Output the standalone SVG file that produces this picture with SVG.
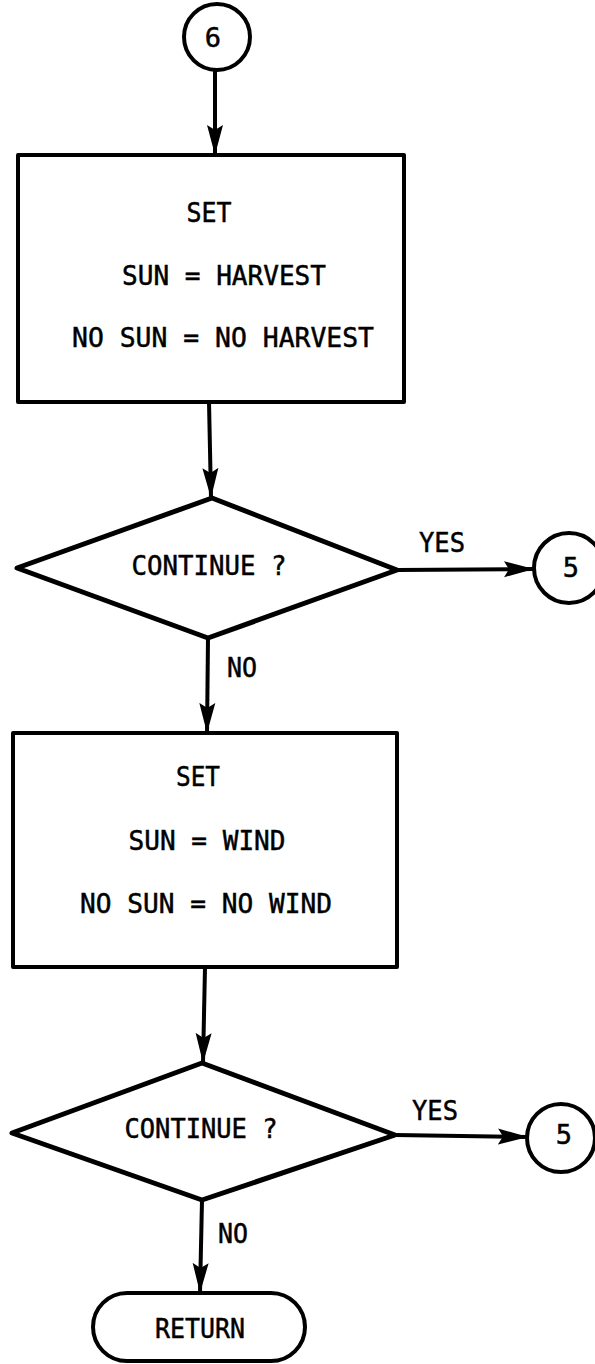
<svg xmlns="http://www.w3.org/2000/svg" width="595" height="1364" viewBox="0 0 595 1364">
  <defs>
    <style>
      .shape { fill: #fff; stroke: #000; stroke-width: 4; stroke-linejoin: round; }
      .diamond { stroke-width: 5; }
      .conn { fill: none; stroke: #000; stroke-width: 4; }
      .lbl { font-family: "DejaVu Sans Mono", "Liberation Mono", monospace; font-size: 27px; fill: #000; stroke: #000; stroke-width: 0.5; }
      .mid { text-anchor: middle; }
    </style>
    <marker id="arrow" viewBox="0 0 30 18" refX="30" refY="9" markerWidth="30" markerHeight="18" markerUnits="userSpaceOnUse" orient="auto">
      <path d="M0,1 L30,9 L0,17 L5,9 Z" fill="#000"/>
    </marker>
  </defs>
  <rect width="595" height="1364" fill="#fff"/>

  <!-- connectors -->
  <g id="connectors">
    <line class="conn" x1="215" y1="70" x2="215" y2="155" marker-end="url(#arrow)"/>
    <line class="conn" x1="209" y1="402" x2="211" y2="498" marker-end="url(#arrow)"/>
    <line class="conn" x1="397" y1="570" x2="534" y2="569" marker-end="url(#arrow)"/>
    <line class="conn" x1="208" y1="638" x2="207" y2="733" marker-end="url(#arrow)"/>
    <line class="conn" x1="205" y1="967" x2="203" y2="1063" marker-end="url(#arrow)"/>
    <line class="conn" x1="395" y1="1135" x2="528" y2="1137" marker-end="url(#arrow)"/>
    <line class="conn" x1="202" y1="1200" x2="200" y2="1293" marker-end="url(#arrow)"/>
    <text class="lbl" x="419" y="552" textLength="46" lengthAdjust="spacingAndGlyphs">YES</text>
    <text class="lbl" x="227" y="677" textLength="30" lengthAdjust="spacingAndGlyphs">NO</text>
    <text class="lbl" x="412" y="1120" textLength="46" lengthAdjust="spacingAndGlyphs">YES</text>
    <text class="lbl" x="218" y="1243" textLength="30" lengthAdjust="spacingAndGlyphs">NO</text>
  </g>

  <!-- entry connector 6 -->
  <g id="conn6">
    <circle class="shape" cx="217" cy="37" r="33"/>
    <text class="lbl mid" x="213" y="47">6</text>
  </g>

  <!-- first assignment block -->
  <g id="set1">
    <rect class="shape" x="18" y="155" width="386" height="247"/>
    <text class="lbl mid" x="209" y="222" textLength="45" lengthAdjust="spacingAndGlyphs">SET</text>
    <text class="lbl mid" x="224" y="285" textLength="204" lengthAdjust="spacingAndGlyphs">SUN = HARVEST</text>
    <text class="lbl mid" x="223" y="347" textLength="302" lengthAdjust="spacingAndGlyphs">NO SUN = NO HARVEST</text>
  </g>

  <!-- first decision -->
  <g id="decision1">
    <polygon class="shape diamond" points="212,498 397,570 208,638 17,568"/>
    <text class="lbl mid" x="209" y="575" textLength="155" lengthAdjust="spacingAndGlyphs">CONTINUE ?</text>
  </g>

  <g id="conn5a">
    <circle class="shape" cx="569" cy="568" r="35"/>
    <text class="lbl mid" x="571" y="577">5</text>
  </g>

  <!-- second assignment block -->
  <g id="set2">
    <rect class="shape" x="13" y="733" width="384" height="234"/>
    <text class="lbl mid" x="198" y="786" textLength="44" lengthAdjust="spacingAndGlyphs">SET</text>
    <text class="lbl mid" x="207" y="850" textLength="157" lengthAdjust="spacingAndGlyphs">SUN = WIND</text>
    <text class="lbl mid" x="206" y="913" textLength="252" lengthAdjust="spacingAndGlyphs">NO SUN = NO WIND</text>
  </g>

  <!-- second decision -->
  <g id="decision2">
    <polygon class="shape diamond" points="202,1063 395,1135 202,1200 12,1133"/>
    <text class="lbl mid" x="201" y="1138" textLength="153" lengthAdjust="spacingAndGlyphs">CONTINUE ?</text>
  </g>

  <g id="conn5b">
    <circle class="shape" cx="561" cy="1138" r="34"/>
    <text class="lbl mid" x="564" y="1144">5</text>
  </g>

  <!-- terminator -->
  <g id="return">
    <rect class="shape" x="93" y="1293" width="212" height="68" rx="34" ry="34"/>
    <text class="lbl mid" x="200" y="1338" textLength="90" lengthAdjust="spacingAndGlyphs">RETURN</text>
  </g>
</svg>
